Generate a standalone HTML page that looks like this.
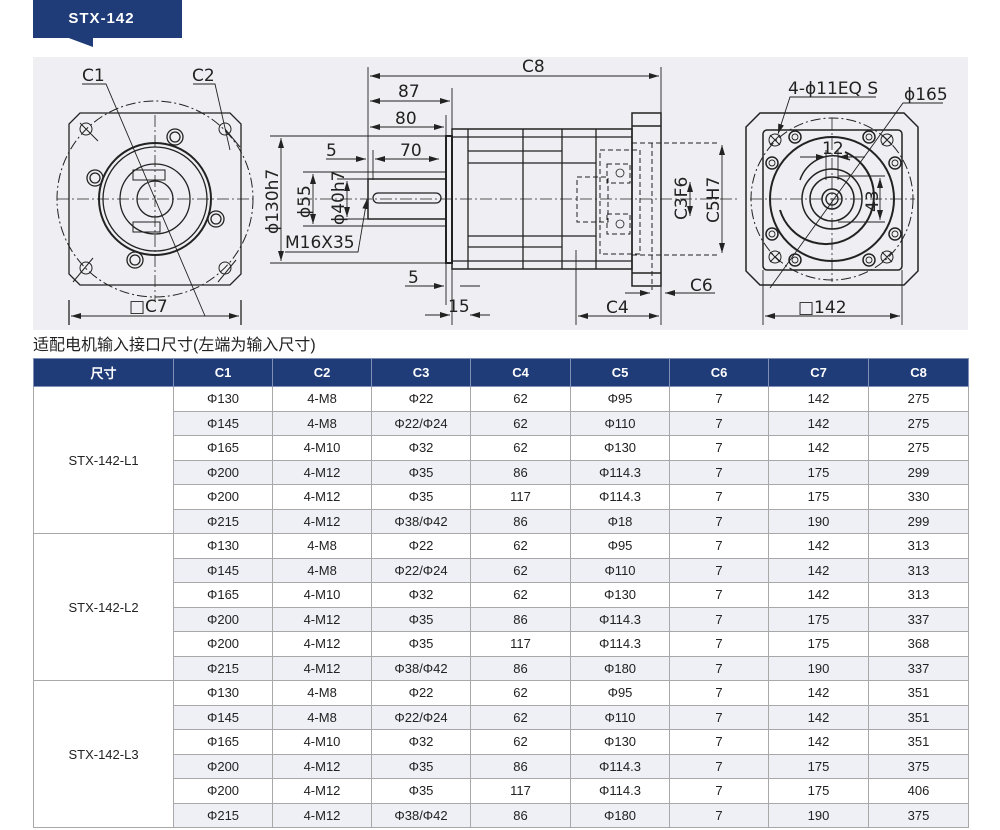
<!DOCTYPE html>
<html><head><meta charset="utf-8"><style>
body{margin:0;width:1000px;height:830px;background:#fff;position:relative;overflow:hidden;font-family:"Liberation Sans","Noto Sans CJK SC",sans-serif}
.ban{position:absolute;left:33px;top:0;width:149px;height:38px;background:#1f3c78;color:#fff;font-weight:bold;font-size:15px;letter-spacing:1px;line-height:38px;text-align:center;text-indent:-12px}
.notch{position:absolute;left:66px;top:37px;width:0;height:0;border-left:27px solid transparent;border-top:10px solid #1f3c78}
.draw{position:absolute;left:33px;top:57px;width:935px;height:273px;background:#efeff3}
svg{position:absolute;left:0;top:0}
.cap{position:absolute;left:33px;top:331px;font-size:16px;color:#222;font-family:"Liberation Sans","Noto Sans CJK SC",sans-serif}
table{position:absolute;left:33px;top:358px;width:935px;table-layout:fixed;border-collapse:collapse;font-size:13px;color:#222;font-family:"Liberation Sans",sans-serif}
th{background:#1f3c78;color:#fff;height:27px;border:1px solid #7f8fb5;font-size:13px;padding:0}
td{height:23.5px;border:1px solid #a8a8a8;text-align:center;padding:0}
tr.g td.v{background:#eef0f5}
td.m{background:#fff}
</style></head><body>
<div class="ban">STX-142</div><div class="notch"></div>
<div class="draw"></div>
<svg width="1000" height="340" viewBox="0 0 1000 340" font-family="DejaVu Sans,Liberation Sans,sans-serif" fill="none" stroke="#222" stroke-width="1.3">
<defs><marker id="a" markerWidth="10" markerHeight="6" refX="10" refY="3" orient="auto-start-reverse" markerUnits="userSpaceOnUse"><path d="M0,0L10,3L0,6z" fill="#222" stroke="none"/></marker></defs>
<path d="M80,113H230L241,124V274L230,285H80L69,274V124Z"/>
<circle cx="155" cy="199" r="98" stroke-dasharray="10,3,2,3" stroke-width="1"/>
<g stroke-width="1"><circle cx="86" cy="129" r="6"/><circle cx="225" cy="129" r="6"/><circle cx="86" cy="268" r="6"/><circle cx="225" cy="268" r="6"/>
<path d="M80,123L98,141M225,129L240,147M73,282L93,258M218,282L236,260"/></g>
<circle cx="155" cy="199" r="56" stroke-width="2"/><circle cx="155" cy="199" r="52"/>
<circle cx="155" cy="199" r="35"/><circle cx="155" cy="199" r="18"/>
<g><circle cx="175" cy="137" r="8"/><circle cx="175" cy="137" r="5"/><circle cx="95" cy="178" r="8"/><circle cx="95" cy="178" r="5"/><circle cx="216" cy="219" r="8"/><circle cx="216" cy="219" r="5"/><circle cx="135" cy="260" r="8"/><circle cx="135" cy="260" r="5"/></g>
<path d="M133,170H165V180H133ZM133,222H160V232H133Z" stroke-width="1"/>
<path d="M57,199H253M155,115V300" stroke-width="0.8" stroke-dasharray="12,3,2,3"/>
<path d="M82,84H106L205,316M193,84H215L230,150" stroke-width="0.9"/>
<path d="M69,300V325M241,300V325"/>
<path d="M71,316H239" marker-start="url(#a)" marker-end="url(#a)" stroke-width="0.9"/>
<path d="M368,179H446V219H368Z M368,179V219" stroke-width="1.5"/>
<rect x="373" y="193" width="68" height="10" rx="5"/>
<path d="M446,136H452V263H446Z" stroke-width="2"/>
<path d="M452,129H632V269H452Z" stroke-width="1.5"/>
<path d="M468,129V269M523,129V269M562,129V269M596,129V269M452,137H632M452,261H632M468,151H562M468,163H562M468,236H562M468,247H562M562,163H596M562,236H596" stroke-width="1.3"/>
<path d="M632,113H661V286H632ZM632,126H661M632,273H661" stroke-width="1.5"/>
<g stroke-dasharray="5,3" stroke-width="1"><path d="M600,150H640V254H600ZM577,177H608V222H577ZM607,164H630V183H607ZM607,214H630V234H607ZM652,143V290M632,143H720M632,255H720"/></g>
<circle cx="620" cy="173" r="4" stroke-width="0.8"/><circle cx="620" cy="224" r="4" stroke-width="0.8"/>
<path d="M300,199H740" stroke-width="0.8" stroke-dasharray="12,3,2,3"/>
<path d="M368,67V179M661,67V113M452,88V130M446,115V136M661,286V325M576,250V325M452,263V325M446,263V305" stroke-width="0.9"/>
<g stroke-width="0.9">
<path d="M370,76H659" marker-start="url(#a)" marker-end="url(#a)"/>
<path d="M370,101H450" marker-start="url(#a)" marker-end="url(#a)"/>
<path d="M370,127H444" marker-start="url(#a)" marker-end="url(#a)"/>
<path d="M375,159H439" marker-start="url(#a)" marker-end="url(#a)"/><path d="M373,150V180"/>
<path d="M326,159H366" marker-end="url(#a)"/>
<path d="M270,136H446M270,263H446M303,172H446M303,226H446M337,179H368M337,219H368"/>
<path d="M281,138V261" marker-start="url(#a)" marker-end="url(#a)"/>
<path d="M313,174V224" marker-start="url(#a)" marker-end="url(#a)"/>
<path d="M347,181V217" marker-start="url(#a)" marker-end="url(#a)"/>
<path d="M285,252H358L367,199" marker-end="url(#a)"/>
<path d="M405,286H444" marker-end="url(#a)"/><path d="M460,286H480"/>
<path d="M425,315H450" marker-end="url(#a)"/><path d="M490,315H470" marker-end="url(#a)"/>
<path d="M578,316H659" marker-start="url(#a)" marker-end="url(#a)"/>
<path d="M625,293H650" marker-end="url(#a)"/><path d="M715,293H665" marker-end="url(#a)"/>
<path d="M722,145V253" marker-start="url(#a)" marker-end="url(#a)"/>
<path d="M690,182V216" marker-start="url(#a)" marker-end="url(#a)"/>
</g>
<path d="M760,113H904L918,127V271L904,285H760L746,271V127Z" stroke-width="1.5"/>
<rect x="763" y="130" width="139" height="140" rx="4" stroke-width="1.5"/>
<circle cx="832" cy="199" r="81" stroke-dasharray="10,3,2,3" stroke-width="1"/>
<circle cx="832" cy="199" r="62" stroke-width="2"/>
<path d="M845,152A48,48 0 1,1 780,210" stroke-width="2"/>
<path d="M800,180A35,35 0 0,1 850,160" stroke-width="1.5"/>
<circle cx="832" cy="199" r="30" stroke-width="1.5"/><circle cx="832" cy="199" r="22" stroke-width="1.5"/><circle cx="832" cy="199" r="10" stroke-width="1.5"/><circle cx="832" cy="199" r="6"/>
<g stroke-width="1"><circle cx="775" cy="140" r="6"/><circle cx="887" cy="140" r="6"/><circle cx="775" cy="257" r="6"/><circle cx="887" cy="257" r="6"/>
<path d="M770,135L780,145M770,145L780,135M882,135L892,145M882,145L892,135M770,252L780,262M770,262L780,252M882,252L892,262M882,262L892,252"/></g>
<g stroke-width="1.5"><circle cx="795" cy="137" r="6"/><circle cx="869" cy="137" r="6"/><circle cx="772" cy="163" r="6"/><circle cx="895" cy="163" r="6"/><circle cx="772" cy="234" r="6"/><circle cx="895" cy="234" r="6"/><circle cx="795" cy="260" r="6"/><circle cx="869" cy="260" r="6"/></g>
<g stroke-width="0.9"><circle cx="795" cy="137" r="3"/><circle cx="869" cy="137" r="3"/><circle cx="772" cy="163" r="3"/><circle cx="895" cy="163" r="3"/><circle cx="772" cy="234" r="3"/><circle cx="895" cy="234" r="3"/><circle cx="795" cy="260" r="3"/><circle cx="869" cy="260" r="3"/></g>
<path d="M750,199H915M832,118V282" stroke-width="0.8" stroke-dasharray="12,3,2,3"/>
<path d="M826,150V180M838,150V180M838,176H885M838,222H885" stroke-width="0.9"/>
<path d="M800,157H826" marker-end="url(#a)" stroke-width="0.9"/><path d="M865,157H838" marker-end="url(#a)" stroke-width="0.9"/>
<path d="M880,178V220" marker-start="url(#a)" marker-end="url(#a)" stroke-width="0.9"/>
<path d="M876,97H790L778,134" marker-end="url(#a)" stroke-width="0.9"/>
<path d="M943,103H903L770,288" stroke-width="0.9"/>
<path d="M763,270V325M902,270V325" stroke-width="0.9"/>
<path d="M765,316H900" marker-start="url(#a)" marker-end="url(#a)" stroke-width="0.9"/>
<g fill="#222" stroke="none" font-size="17">
<text x="82" y="81">C1</text><text x="192" y="81">C2</text><text x="129" y="312">□C7</text>
<text x="522" y="72">C8</text><text x="398" y="97">87</text><text x="395" y="124">80</text><text x="400" y="156">70</text><text x="326" y="156">5</text>
<text x="285" y="248">M16X35</text><text x="408" y="283">5</text><text x="448" y="312">15</text><text x="606" y="313">C4</text><text x="690" y="291">C6</text>
<text transform="translate(278,234) rotate(-90)">ϕ130h7</text>
<text transform="translate(310,218) rotate(-90)">ϕ55</text>
<text transform="translate(344,225) rotate(-90)">ϕ40h7</text>
<text transform="translate(687,220) rotate(-90)">C3F6</text>
<text transform="translate(719,223) rotate(-90)">C5H7</text>
<text x="788" y="94">4-ϕ11EQ S</text><text x="904" y="100">ϕ165</text>
<text x="822" y="154">12</text><text transform="translate(878,212) rotate(-90)">43</text>
<text x="798" y="313">□142</text>
</g>
</svg>
<div class="cap">适配电机输入接口尺寸(左端为输入尺寸)</div>
<table>
<colgroup><col style="width:140px"><col style="width:99px"><col style="width:99px"><col style="width:99px"><col style="width:100px"><col style="width:99px"><col style="width:99px"><col style="width:100px"><col style="width:100px"></colgroup>
<tr><th>尺寸</th><th>C1</th><th>C2</th><th>C3</th><th>C4</th><th>C5</th><th>C6</th><th>C7</th><th>C8</th></tr>
<tr><td class="m" rowspan="6">STX-142-L1</td><td>Φ130</td><td>4-M8</td><td>Φ22</td><td>62</td><td>Φ95</td><td>7</td><td>142</td><td>275</td></tr>
<tr class="g"><td class="v">Φ145</td><td class="v">4-M8</td><td class="v">Φ22/Φ24</td><td class="v">62</td><td class="v">Φ110</td><td class="v">7</td><td class="v">142</td><td class="v">275</td></tr>
<tr><td>Φ165</td><td>4-M10</td><td>Φ32</td><td>62</td><td>Φ130</td><td>7</td><td>142</td><td>275</td></tr>
<tr class="g"><td class="v">Φ200</td><td class="v">4-M12</td><td class="v">Φ35</td><td class="v">86</td><td class="v">Φ114.3</td><td class="v">7</td><td class="v">175</td><td class="v">299</td></tr>
<tr><td>Φ200</td><td>4-M12</td><td>Φ35</td><td>117</td><td>Φ114.3</td><td>7</td><td>175</td><td>330</td></tr>
<tr class="g"><td class="v">Φ215</td><td class="v">4-M12</td><td class="v">Φ38/Φ42</td><td class="v">86</td><td class="v">Φ18</td><td class="v">7</td><td class="v">190</td><td class="v">299</td></tr>
<tr><td class="m" rowspan="6">STX-142-L2</td><td>Φ130</td><td>4-M8</td><td>Φ22</td><td>62</td><td>Φ95</td><td>7</td><td>142</td><td>313</td></tr>
<tr class="g"><td class="v">Φ145</td><td class="v">4-M8</td><td class="v">Φ22/Φ24</td><td class="v">62</td><td class="v">Φ110</td><td class="v">7</td><td class="v">142</td><td class="v">313</td></tr>
<tr><td>Φ165</td><td>4-M10</td><td>Φ32</td><td>62</td><td>Φ130</td><td>7</td><td>142</td><td>313</td></tr>
<tr class="g"><td class="v">Φ200</td><td class="v">4-M12</td><td class="v">Φ35</td><td class="v">86</td><td class="v">Φ114.3</td><td class="v">7</td><td class="v">175</td><td class="v">337</td></tr>
<tr><td>Φ200</td><td>4-M12</td><td>Φ35</td><td>117</td><td>Φ114.3</td><td>7</td><td>175</td><td>368</td></tr>
<tr class="g"><td class="v">Φ215</td><td class="v">4-M12</td><td class="v">Φ38/Φ42</td><td class="v">86</td><td class="v">Φ180</td><td class="v">7</td><td class="v">190</td><td class="v">337</td></tr>
<tr><td class="m" rowspan="6">STX-142-L3</td><td>Φ130</td><td>4-M8</td><td>Φ22</td><td>62</td><td>Φ95</td><td>7</td><td>142</td><td>351</td></tr>
<tr class="g"><td class="v">Φ145</td><td class="v">4-M8</td><td class="v">Φ22/Φ24</td><td class="v">62</td><td class="v">Φ110</td><td class="v">7</td><td class="v">142</td><td class="v">351</td></tr>
<tr><td>Φ165</td><td>4-M10</td><td>Φ32</td><td>62</td><td>Φ130</td><td>7</td><td>142</td><td>351</td></tr>
<tr class="g"><td class="v">Φ200</td><td class="v">4-M12</td><td class="v">Φ35</td><td class="v">86</td><td class="v">Φ114.3</td><td class="v">7</td><td class="v">175</td><td class="v">375</td></tr>
<tr><td>Φ200</td><td>4-M12</td><td>Φ35</td><td>117</td><td>Φ114.3</td><td>7</td><td>175</td><td>406</td></tr>
<tr class="g"><td class="v">Φ215</td><td class="v">4-M12</td><td class="v">Φ38/Φ42</td><td class="v">86</td><td class="v">Φ180</td><td class="v">7</td><td class="v">190</td><td class="v">375</td></tr>
</table>
</body></html>
